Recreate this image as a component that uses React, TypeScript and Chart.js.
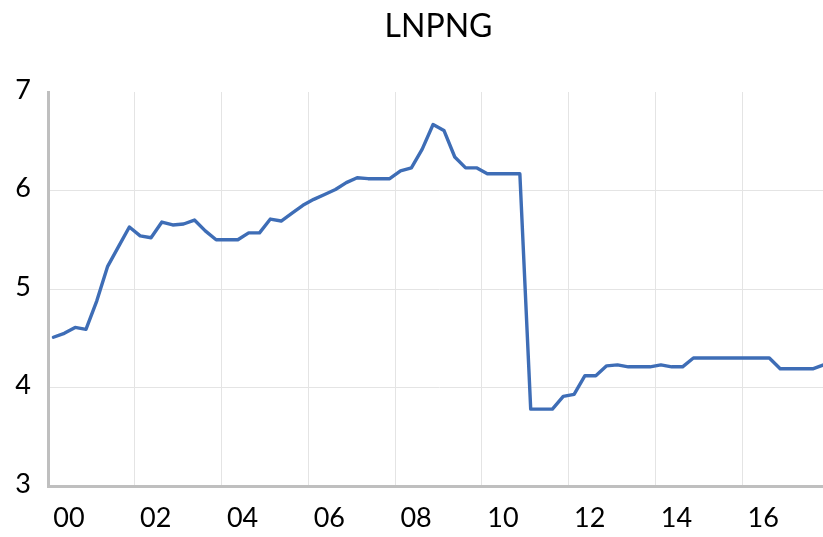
import React, { useEffect, useRef } from "react";
import { Chart, registerables } from "chart.js";

Chart.register(...registerables);

const years = [2000, 2001, 2002, 2003, 2004, 2005, 2006, 2007, 2008, 2009, 2010, 2011, 2012, 2013, 2014, 2015, 2016, 2017];
const quarters = ["Q1", "Q2", "Q3", "Q4"];
const categories: string[] = years.flatMap((y) => quarters.map((q) => `${y}${q}`));

const lnpng: number[] = [
  4.51, 4.55, 4.61, 4.59,
  4.88, 5.23, 5.43, 5.63,
  5.54, 5.52, 5.68, 5.65,
  5.66, 5.70, 5.59, 5.50,
  5.50, 5.50, 5.57, 5.57,
  5.71, 5.69, 5.77, 5.85,
  5.91, 5.96, 6.01, 6.08,
  6.13, 6.12, 6.12, 6.12,
  6.20, 6.23, 6.42, 6.67,
  6.61, 6.34, 6.23, 6.23,
  6.17, 6.17, 6.17, 6.17,
  3.78, 3.78, 3.78, 3.91,
  3.93, 4.12, 4.12, 4.22,
  4.23, 4.21, 4.21, 4.21,
  4.23, 4.21, 4.21, 4.30,
  4.30, 4.30, 4.30, 4.30,
  4.30, 4.30, 4.30, 4.19,
  4.19, 4.19, 4.19, 4.23,
];

const yTicks = [3, 4, 5, 6, 7];
const xTickLabels = ["00", "02", "04", "06", "08", "10", "12", "14", "16"];
const quartersPerLabel = 8;
const titleText = "LNPNG";

export default function App() {
  const ref = useRef<HTMLCanvasElement | null>(null);

  useEffect(() => {
    if (!ref.current) return;
    const points = lnpng.map((v, i) => ({ x: i, y: v }));
    const chart = new Chart(ref.current, {
      type: "line",
      data: {
        datasets: [
          {
            label: titleText,
            data: points,
            borderColor: "#3E6DB6",
            backgroundColor: "#3E6DB6",
            borderWidth: 3.4,
            pointRadius: 0,
            tension: 0,
            borderJoinStyle: "round",
            borderCapStyle: "round",
          },
        ],
      },
      options: {
        responsive: false,
        animation: false,
        parsing: false as any,
        layout: { padding: { left: 0, right: 1, top: 0, bottom: 0 } },
        plugins: {
          legend: { display: false },
          tooltip: { enabled: false },
          title: {
            display: true,
            text: titleText,
            fullSize: false,
            color: "#000000",
            font: { family: "Lato", size: 32, weight: "normal", lineHeight: 1.2 },
            padding: { top: 7, bottom: 46.6 },
          },
        },
        scales: {
          x: {
            type: "linear",
            min: -0.5,
            max: categories.length - 0.5,
            afterBuildTicks: (scale: any) => {
              scale.ticks = xTickLabels.map((_, k) => ({ value: k * quartersPerLabel - 0.5 }));
            },
            grid: {
              color: "#E4E4E4",
              lineWidth: 1,
              drawTicks: false,
            },
            border: { color: "#BFBFBF", width: 3 },
            ticks: {
              autoSkip: false,
              maxRotation: 0,
              minRotation: 0,
              labelOffset: 21,
              padding: 16,
              color: "#000000",
              font: { family: "Lato", size: 27 },
              callback: function (v: any) {
                const k = Math.round((Number(v) + 0.5) / quartersPerLabel);
                return xTickLabels[k] ?? "";
              },
            },
            afterFit: (scale: any) => {
              scale.height = 51;
            },
          },
          y: {
            min: yTicks[0],
            max: yTicks[yTicks.length - 1],
            afterBuildTicks: (scale: any) => {
              scale.ticks = yTicks.map((v) => ({ value: v }));
            },
            grid: {
              color: (ctx: any) => (ctx.tick && ctx.tick.value === 7 ? "rgba(0,0,0,0)" : "#E4E4E4"),
              lineWidth: 1,
              drawTicks: false,
            },
            border: { color: "#BFBFBF", width: 3 },
            ticks: {
              padding: 17,
              labelOffset: -2,
              color: "#000000",
              font: { family: "Lato", size: 27 },
            },
            afterFit: (scale: any) => {
              scale.width = 48;
            },
          },
        },
      },
    });
    return () => chart.destroy();
  }, []);

  return (
    <div
      style={{
        position: "fixed",
        left: 0,
        top: 0,
        width: 823,
        height: 537,
        overflow: "hidden",
        background: "#ffffff",
      }}
    >
      <canvas ref={ref} width={830} height={537} style={{ width: 830, height: 537, display: "block" }} />
    </div>
  );
}
